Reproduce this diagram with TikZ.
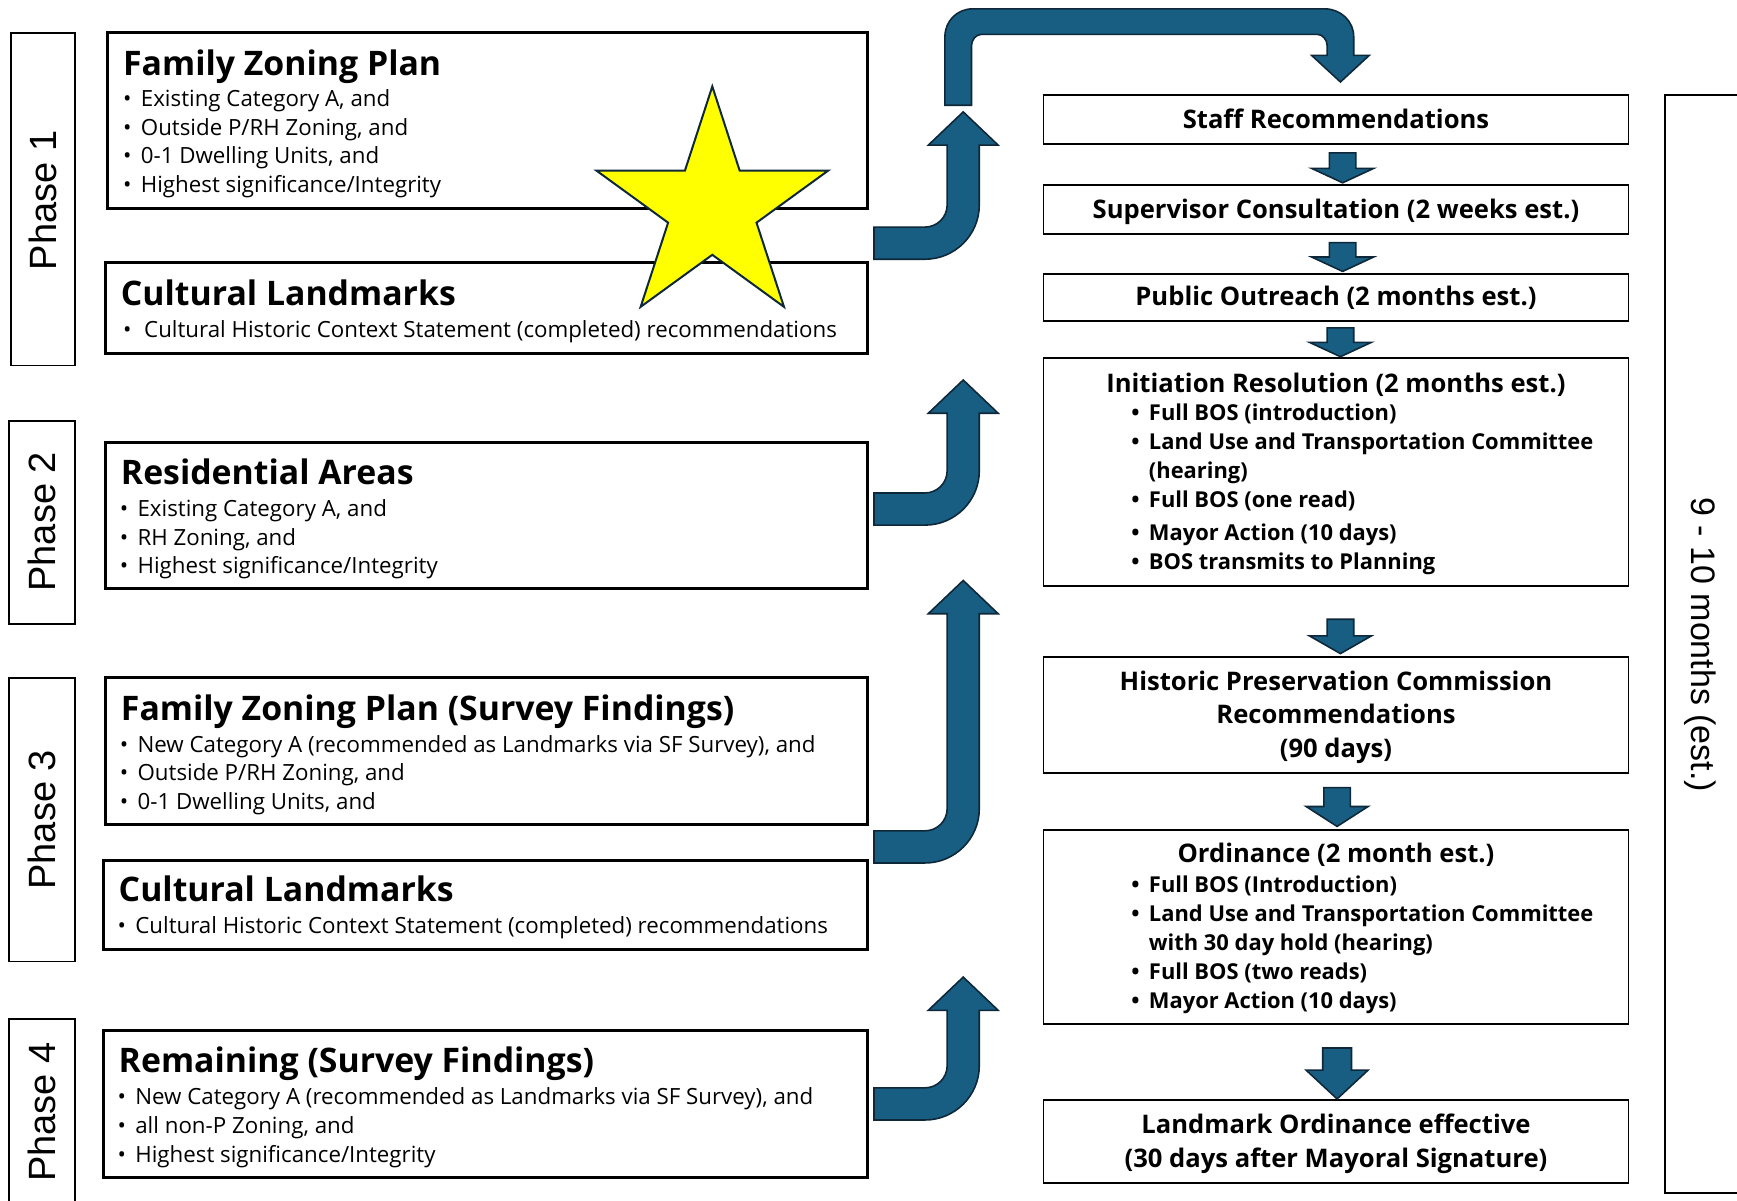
\documentclass[tikz,border=0pt]{standalone}
\usepackage{fontspec}
\setmainfont{Open Sans}
\newfontfamily\arialf{Liberation Sans}
\usetikzlibrary{fit}
\definecolor{arrowfill}{RGB}{24,94,130}
\definecolor{arrowline}{RGB}{14,40,58}
\definecolor{staryellow}{RGB}{255,255,0}
\newcommand\dnarrow[5]{% cx, ytop, ybase, ytip, halfshaft
  \draw[blockarrow] ({#1-#5},#2) -- ({#1+#5},#2) -- ({#1+#5},#3) -- ({#1+28},#3) -- (#1,#4) -- ({#1-28},#3) -- ({#1-#5},#3) -- cycle;}
\newcommand\bentarrow[2]{% band top y, tip y
  \draw[blockarrow] (789,#1) -- (835,#1) .. controls (846,#1) and (855,{#1-9}) .. (855,{#1-20})
    -- (855,{#2+30}) -- (838,{#2+30}) -- (869.5,#2) -- (901,{#2+30}) -- (884,{#2+30})
    -- (884,{#1-20}) .. controls (884,{#1+7}) and (862,{#1+29}) .. (835,{#1+29}) -- (789,{#1+29}) -- cycle;}
\begin{document}
\begin{tikzpicture}[x=1.1078pt,y=-1.1078pt,
  leftbox/.style={draw=black,line width=3pt,inner sep=0pt},
  rightbox/.style={draw=black,line width=1.8pt,inner sep=0pt},
  phasebox/.style={draw=black,line width=1.8pt,inner sep=0pt},
  ttl/.style={anchor=base west,inner sep=0pt,font=\bfseries\fontsize{33.8}{40}\selectfont},
  bul/.style={anchor=base west,inner sep=0pt,font=\fontsize{22.3}{26}\selectfont},
  dot/.style={anchor=base west,inner sep=0pt,font=\fontsize{22.3}{26}\selectfont},
  rtx/.style={anchor=base,inner sep=0pt,font=\bfseries\fontsize{25.6}{30}\selectfont},
  rbul/.style={anchor=base west,inner sep=0pt,font=\bfseries\fontsize{21.9}{26}\selectfont},
  phasetxt/.style={inner sep=0pt,rotate=90,font=\arialf\fontsize{38}{44}\selectfont},
  blockarrow/.style={fill=arrowfill,draw=arrowline,line width=1.6pt,line join=miter}
]
\useasboundingbox (0,0) rectangle (1568,1084.15);

% phase boxes
\node[phasebox,fit={(10,30) (68,330)}] (p1) {};
\node[phasebox,fit={(8,380) (68,563)}] (p2) {};
\node[phasebox,fit={(8,612) (68,868)}] (p3) {};
\node[phasebox,fit={(8,920) (68,1110)}] (p4) {};
\node[phasetxt] (p1t) at (39,181) {Phase 1};
\node[phasetxt] (p2t) at (38,471) {Phase 2};
\node[phasetxt] (p3t) at (38,740) {Phase 3};
\node[phasetxt] (p4t) at (38,1004) {Phase 4};

% left boxes
\node[leftbox,fit={(97,29) (783,188)}] (b1) {};
\node[ttl] (b1t) at (111,68) {Family Zoning Plan};
\node[dot] (b1d1) at (111,96) {•};
\node[bul] (b1l1) at (127,96) {Existing Category A, and};
\node[dot] (b1d2) at (111,122) {•};
\node[bul] (b1l2) at (127,122) {Outside P/RH Zoning, and};
\node[dot] (b1d3) at (111,148) {•};
\node[bul] (b1l3) at (127,148) {0-1 Dwelling Units, and};
\node[dot] (b1d4) at (111,174) {•};
\node[bul] (b1l4) at (127,174) {Highest significance/Integrity};

\node[leftbox,fit={(95,237) (783,319)}] (b2) {};
\node[ttl] (b2t) at (109,276) {Cultural Landmarks};
\node[dot] (b2d1) at (111,305) {•};
\node[bul] (b2l1) at (130,305) {Cultural Historic Context Statement (completed) recommendations};

\node[leftbox,fit={(95,399) (783,531)}] (b3) {};
\node[ttl] (b3t) at (109,437) {Residential Areas};
\node[dot] (b3d1) at (108,466) {•};
\node[bul] (b3l1) at (124,466) {Existing Category A, and};
\node[dot] (b3d2) at (108,492) {•};
\node[bul] (b3l2) at (124,492) {RH Zoning, and};
\node[dot] (b3d3) at (108,518) {•};
\node[bul] (b3l3) at (124,518) {Highest significance/Integrity};

\node[leftbox,fit={(95,612) (783,744)}] (b4) {};
\node[ttl] (b4t) at (109,650) {Family Zoning Plan (Survey Findings)};
\node[dot] (b4d1) at (108,679) {•};
\node[bul] (b4l1) at (124,679) {New Category A (recommended as Landmarks via SF Survey), and};
\node[dot] (b4d2) at (108,705) {•};
\node[bul] (b4l2) at (124,705) {Outside P/RH Zoning, and};
\node[dot] (b4d3) at (108,731) {•};
\node[bul] (b4l3) at (124,731) {0-1 Dwelling Units, and};

\node[leftbox,fit={(93,777) (783,857)}] (b5) {};
\node[ttl] (b5t) at (107,814) {Cultural Landmarks};
\node[dot] (b5d1) at (106,843) {•};
\node[bul] (b5l1) at (122,843) {Cultural Historic Context Statement (completed) recommendations};

\node[leftbox,fit={(93,930) (783,1063)}] (b6) {};
\node[ttl] (b6t) at (107,968) {Remaining (Survey Findings)};
\node[dot] (b6d1) at (106,997) {•};
\node[bul] (b6l1) at (122,997) {New Category A (recommended as Landmarks via SF Survey), and};
\node[dot] (b6d2) at (106,1023) {•};
\node[bul] (b6l2) at (122,1023) {all non-P Zoning, and};
\node[dot] (b6d3) at (106,1049) {•};
\node[bul] (b6l3) at (122,1049) {Highest significance/Integrity};

% star
\draw[fill=staryellow,draw=arrowline,line width=2pt,line join=miter] (643,78) -- (667.7,154) -- (747.6,154) -- (682.9,201) -- (707.7,277) -- (643,230) -- (578.3,277) -- (603.1,201) -- (538.4,154) -- (618.3,154) -- cycle;

% right boxes
\node[rightbox,fit={(942,86) (1470,130)}] (r1) {};
\node[rtx] (r1t) at (1206,116) {Staff Recommendations};
\node[rightbox,fit={(942,167) (1470,211)}] (r2) {};
\node[rtx] (r2t) at (1206,197) {Supervisor Consultation (2 weeks est.)};
\node[rightbox,fit={(942,247) (1470,290)}] (r3) {};
\node[rtx] (r3t) at (1206,276) {Public Outreach (2 months est.)};
\node[rightbox,fit={(942,323) (1470,529)}] (r4) {};
\node[rtx] (r4t) at (1206,354) {Initiation Resolution (2 months est.)};
\node[rbul] (r4d1) at (1021,380) {•};
\node[rbul] (r4l1) at (1037,380) {Full BOS (introduction)};
\node[rbul] (r4d2) at (1021,406) {•};
\node[rbul] (r4l2) at (1037,406) {Land Use and Transportation Committee};
\node[rbul] (r4l2b) at (1037,432) {(hearing)};
\node[rbul] (r4d3) at (1021,458) {•};
\node[rbul] (r4l3) at (1037,458) {Full BOS (one read)};
\node[rbul] (r4d4) at (1021,488) {•};
\node[rbul] (r4l4) at (1037,488) {Mayor Action (10 days)};
\node[rbul] (r4d5) at (1021,514) {•};
\node[rbul] (r4l5) at (1037,514) {BOS transmits to Planning};

\node[rightbox,fit={(942,593) (1470,698)}] (r5) {};
\node[rtx] (r5a) at (1206,623) {Historic Preservation Commission};
\node[rtx] (r5b) at (1206,653) {Recommendations};
\node[rtx] (r5c) at (1206,684) {(90 days)};

\node[rightbox,fit={(942,749) (1470,924)}] (r6) {};
\node[rtx] (r6t) at (1206,779) {Ordinance (2 month est.)};
\node[rbul] (r6d1) at (1021,806) {•};
\node[rbul] (r6l1) at (1037,806) {Full BOS (Introduction)};
\node[rbul] (r6d2) at (1021,832) {•};
\node[rbul] (r6l2) at (1037,832) {Land Use and Transportation Committee};
\node[rbul] (r6l2b) at (1037,858) {with 30 day hold (hearing)};
\node[rbul] (r6d3) at (1021,884) {•};
\node[rbul] (r6l3) at (1037,884) {Full BOS (two reads)};
\node[rbul] (r6d4) at (1021,910) {•};
\node[rbul] (r6l4) at (1037,910) {Mayor Action (10 days)};

\node[rightbox,fit={(942,993) (1470,1068)}] (r7) {};
\node[rtx] (r7a) at (1206,1023) {Landmark Ordinance effective};
\node[rtx] (r7b) at (1206,1054) {(30 days after Mayoral Signature)};

% bracket box
\node[rightbox,fit={(1503,86) (1600,1077)}] (br) {};
\node[inner sep=0pt,rotate=-90,font=\arialf\fontsize{34}{40}\selectfont] (brt) at (1535,582) {9 - 10 months (est.)};

% small down arrows
\dnarrow{1212}{138}{152}{165}{12}
\dnarrow{1212}{219}{232}{245}{12}
\dnarrow{1210}{296}{309}{322}{12}
\dnarrow{1210}{559}{574}{590}{12}
\dnarrow{1207}{711}{728}{746}{12}
\dnarrow{1207}{946}{966}{992}{13}

% bent arrows
\bentarrow{205}{101}
\bentarrow{445}{343}
\bentarrow{750}{524}
\bentarrow{982}{882}

% U-turn arrow
\draw[blockarrow] (853,95) -- (853,33) .. controls (853,19) and (864,8) .. (878,8) -- (1196,8)
  .. controls (1210,8) and (1222,19) .. (1222,33) -- (1222,50) -- (1236,50) -- (1210,74) -- (1184,50)
  -- (1198,50) -- (1198,41) .. controls (1198,36) and (1194,31) .. (1189,31) -- (886,31)
  .. controls (881,31) and (877,36) .. (877,41) -- (877,95) -- cycle;
\end{tikzpicture}
\end{document}
